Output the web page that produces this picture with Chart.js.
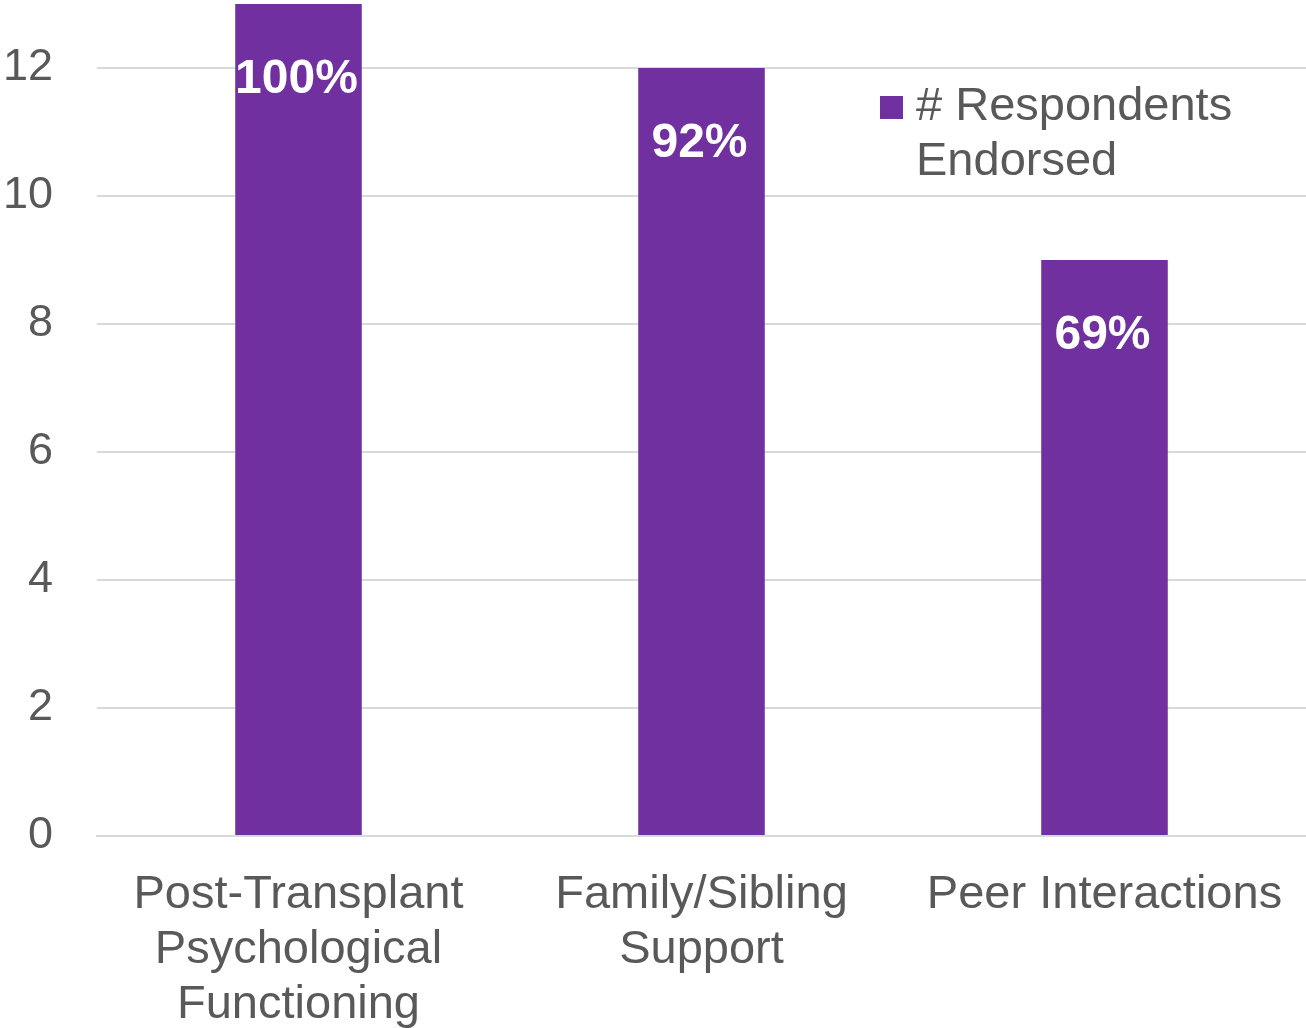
<!DOCTYPE html>
<html>
<head>
<meta charset="utf-8">
<script src="https://cdn.jsdelivr.net/npm/chart.js@4/dist/chart.umd.min.js"></script>
<style>
  body { margin: 0; background: #ffffff; }
  #wrap { width: 1306px; height: 1028px; }
</style>
</head>
<body>
<div id="wrap"><canvas id="myChart" width="1306" height="1028"></canvas></div>
<script>
var categories = [
  ["Post-Transplant", "Psychological", "Functioning"],
  ["Family/Sibling", "Support"],
  ["Peer Interactions"]
];
var respondents = [13, 12, 9];
var percentLabels = ["100%", "92%", "69%"];
var seriesName = "# Respondents Endorsed";
var yTicks = [0, 2, 4, 6, 8, 10, 12];

var purple = "#7030a0";
var grey = "#595959";
var fontFam = "'Liberation Sans', Arial, sans-serif";

// white bold percentages inside the bars
var barText = {
  id: "barText",
  afterDatasetsDraw: function(chart){
    var ctx = chart.ctx;
    var meta = chart.getDatasetMeta(0);
    ctx.save();
    ctx.fillStyle = "#ffffff";
    ctx.font = "bold 48px " + fontFam;
    ctx.textAlign = "center";
    ctx.textBaseline = "middle";
    for(var i = 0;i < meta.data.length;i++){
      var bar = meta.data[i];
      ctx.fillText(percentLabels[i], bar.x - 2, bar.y + 76);
    }
    ctx.restore();
  }
};

// legend drawn inside the plot, top right, wrapped on two lines
var insideLegend = {
  id: "insideLegend",
  afterDraw: function(chart){
    var ctx = chart.ctx;
    var ds = chart.data.datasets[0];
    var area = chart.chartArea;
    var x = area.right - 426;
    var y = area.top + 92;
    var words = ds.label.split(" ");
    var lines = [words[0] + " " + words[1], words[2]];
    ctx.save();
    ctx.fillStyle = ds.backgroundColor;
    ctx.fillRect(x, y, 23, 23);
    ctx.fillStyle = grey;
    ctx.font = "47px " + fontFam;
    ctx.textAlign = "left";
    ctx.textBaseline = "middle";
    for(var i = 0;i < lines.length;i++){
      ctx.fillText(lines[i], x + 36, y + 11 + i*55);
    }
    ctx.restore();
  }
};

var ctx = document.getElementById("myChart").getContext("2d");
var barChart = new Chart(ctx, {
  type: "bar",
  data: {
    labels: categories,
    datasets: [{
      label: seriesName,
      data: respondents,
      backgroundColor: purple,
      borderWidth: 0,
      categoryPercentage: 1,
      barPercentage: 0.314
    }]
  },
  options: {
    responsive: false,
    animation: false,
    layout: { padding: { left: 3, top: 4, right: 0, bottom: 0 } },
    plugins: {
      legend: { display: false },
      tooltip: { enabled: false }
    },
    scales: {
      x: {
        grid: { display: false, drawTicks: true, tickLength: 32 },
        border: { display: true, color: "#d9d9d9", width: 2 },
        ticks: {
          color: grey,
          font: { family: fontFam, size: 47, lineHeight: 1.17 },
          padding: 0,
          maxRotation: 0,
          autoSkip: false
        },
        afterFit: function(scale){
          scale.height = 192;
          scale.paddingLeft = 0;
          scale.paddingRight = 0;
        }
      },
      y: {
        min: 0,
        max: 13,
        afterBuildTicks: function(scale){
          scale.ticks = yTicks.map(function(v){ return { value: v }; });
        },
        grid: { color: "#d9d9d9", lineWidth: 2, drawTicks: false },
        border: { display: false },
        ticks: {
          color: grey,
          font: { family: fontFam, size: 45 },
          padding: 44
        },
        afterFit: function(scale){
          scale.width = 94;
          scale.paddingTop = 0;
          scale.paddingBottom = 0;
        }
      }
    }
  },
  plugins: [barText, insideLegend]
});
</script>
</body>
</html>
